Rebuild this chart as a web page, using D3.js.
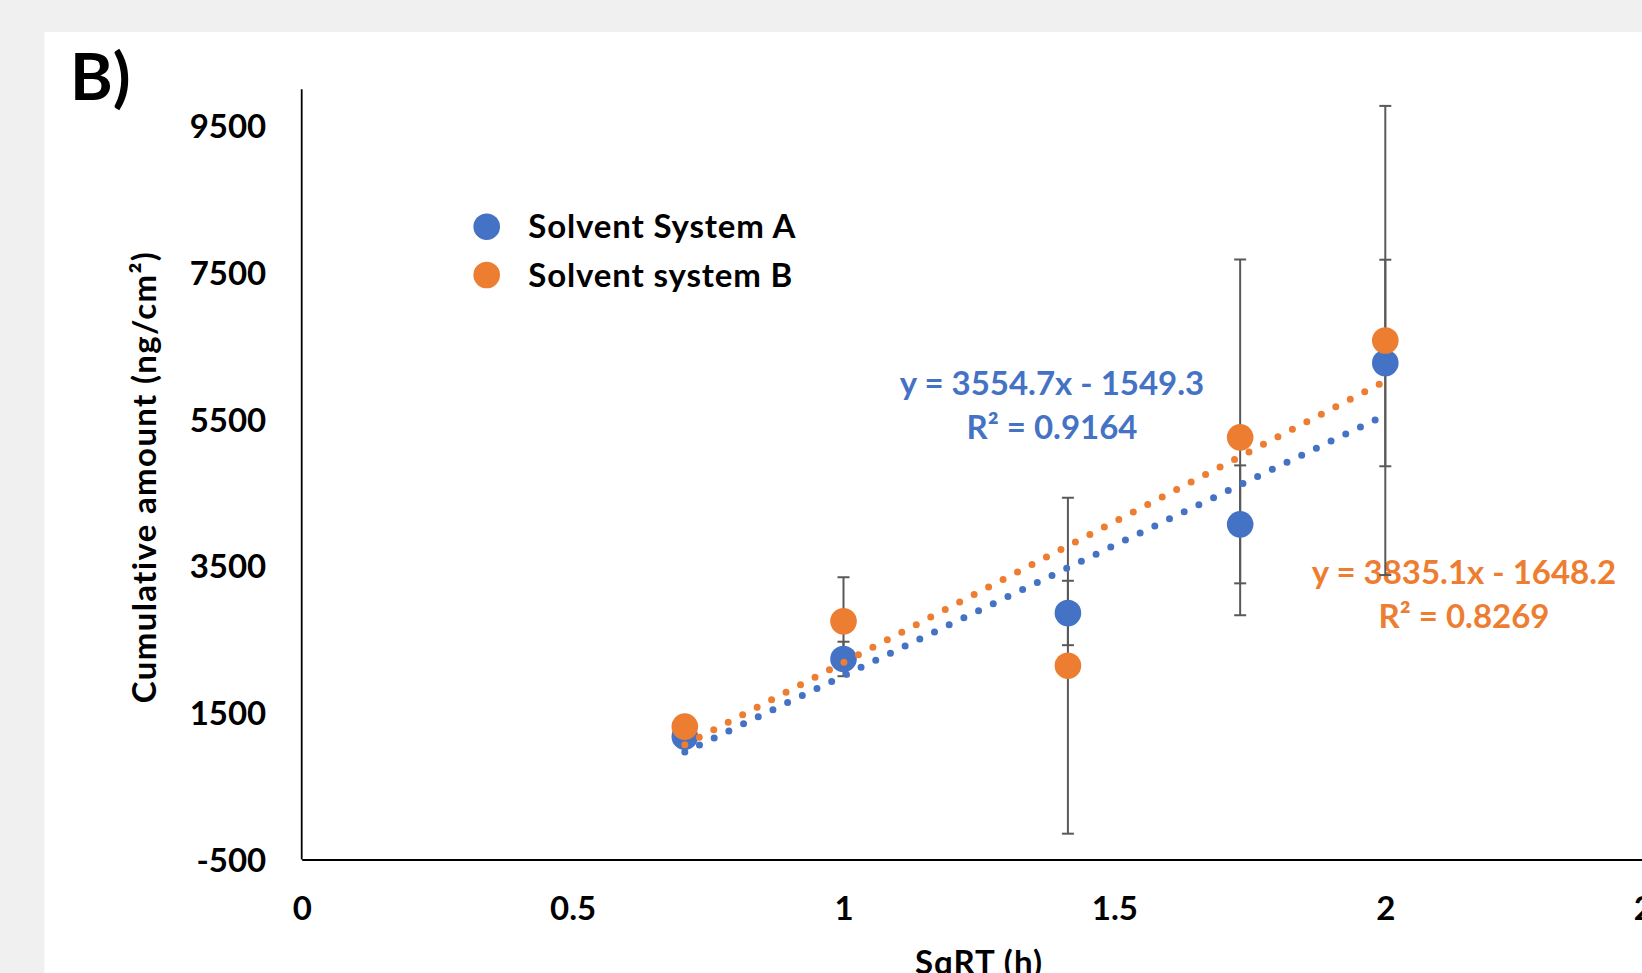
<!DOCTYPE html>
<html>
<head>
<meta charset="utf-8">
<script src="https://cdn.jsdelivr.net/npm/d3@7"></script>
<style>
  html, body { margin: 0; padding: 0; background: #f0f0f0; }
  svg { display: block; }
  text { font-family: Lato, "Open Sans", sans-serif; font-weight: bold; }
</style>
</head>
<body>
<svg id="chart" width="1642" height="973"></svg>
<script>
// ---- data ----
const xValues = [0.7071, 1, 1.4142, 1.7321, 2];          // SqRT (h)
const seriesNames = ["Solvent System A", "Solvent system B"];
const seriesA = [1174, 2234, 2861, 4069, 6269];
const errorA  = [null, 235, 439, 804, 1408];
const seriesB = [1311, 2748, 2142, 5255, 6576];
const errorB  = [null, 600, 2290, 2425, 3198];
const trendSlopes = [3554.7, 3835.1];
const trendIntercepts = [-1549.3, -1648.2];
const trendR2 = [0.9164, 0.8269];
const yTicks = [-500, 1500, 3500, 5500, 7500, 9500];
const xTicks = [0, 0.5, 1, 1.5, 2, 2.5];

const colors = ["#4472C4", "#ED7D31"];
const FS = 33;

const svg = d3.select("#chart");
svg.append("rect").attr("width", 1642).attr("height", 973).attr("fill", "#f0f0f0");
svg.append("rect").attr("x", 44.5).attr("y", 32).attr("width", 1642).attr("height", 973).attr("fill", "#fff");

const x = d3.scaleLinear().domain([0, 2.5]).range([301.7, 1656.2]);
const y = d3.scaleLinear().domain([-500, 9500]).range([859.5, 126]);
const yTop = 10000;

// panel label
svg.append("text").attr("x", 70).attr("y", 100).attr("font-size", 65).text("B)");

// axes
const yAxis = d3.axisLeft(y).tickValues(yTicks).tickSize(0).tickPadding(35.5).tickFormat(d => String(d));
const gy = svg.append("g").attr("transform", "translate(301.7,0)").call(yAxis);
gy.select(".domain").attr("d", `M0,${y(yTop)}V${y(-500)}`).attr("stroke", "#000").attr("stroke-width", 1.8);
gy.selectAll("text").attr("font-size", FS).attr("font-family", "Lato").attr("font-weight", "bold").attr("fill", "#000").attr("dy", "0.36em");

const xAxis = d3.axisBottom(x).tickValues(xTicks).tickSize(0).tickFormat(d => String(d));
const gx = svg.append("g").attr("transform", `translate(0,${y(-500)})`).call(xAxis);
gx.select(".domain").attr("stroke", "#000").attr("stroke-width", 1.8);
gx.selectAll("text").attr("font-size", FS).attr("font-family", "Lato").attr("font-weight", "bold").attr("fill", "#000").attr("y", 60).attr("dy", 0);

// axis titles
svg.append("text").attr("transform", "translate(156,477) rotate(-90)").attr("text-anchor", "middle")
  .attr("font-size", FS).attr("letter-spacing", 1.35).text("Cumulative amount (ng/cm²)");
svg.append("text").attr("x", (x(0) + x(2.5)) / 2).attr("y", 974).attr("text-anchor", "middle")
  .attr("font-size", FS).attr("letter-spacing", 1).text("SqRT (h)");

// trendline equation labels
const eqPos = [[1052, 395], [1464, 584.3]];
[0, 1].forEach(i => {
  const g = svg.append("g");
  const sign = trendIntercepts[i] < 0 ? " - " : " + ";
  g.append("text").attr("x", eqPos[i][0]).attr("y", eqPos[i][1]).attr("text-anchor", "middle")
    .attr("font-size", FS).attr("fill", colors[i])
    .text(`y = ${trendSlopes[i].toFixed(1)}x${sign}${Math.abs(trendIntercepts[i]).toFixed(1)}`);
  g.append("text").attr("x", eqPos[i][0]).attr("y", eqPos[i][1] + 44).attr("text-anchor", "middle")
    .attr("font-size", FS).attr("fill", colors[i])
    .text(`R² = ${trendR2[i].toFixed(4)}`);
});

// error bars
const series = [
  { vals: seriesA, errs: errorA, color: colors[0] },
  { vals: seriesB, errs: errorB, color: colors[1] }
];
const capW = 6;
series.forEach(s => {
  const g = svg.append("g").attr("stroke", "#595959").attr("stroke-width", 2).attr("fill", "none");
  xValues.forEach((xv, i) => {
    const e = s.errs[i];
    if (e == null) return;
    const cx = x(xv), y1 = y(s.vals[i] + e), y2 = y(s.vals[i] - e);
    g.append("line").attr("x1", cx).attr("x2", cx).attr("y1", y1).attr("y2", y2);
    g.append("line").attr("x1", cx - capW).attr("x2", cx + capW).attr("y1", y1).attr("y2", y1);
    g.append("line").attr("x1", cx - capW).attr("x2", cx + capW).attr("y1", y2).attr("y2", y2);
  });
});

// markers
series.forEach(s => {
  svg.append("g").selectAll("circle").data(xValues).join("circle")
    .attr("cx", d => x(d)).attr("cy", (d, i) => y(s.vals[i])).attr("r", 13.3).attr("fill", s.color);
});

// trendlines (dotted)
[0, 1].forEach(i => {
  const x0 = d3.min(xValues), x1 = d3.max(xValues);
  const f = v => trendSlopes[i] * v + trendIntercepts[i];
  svg.append("line")
    .attr("x1", x(x0)).attr("y1", y(f(x0))).attr("x2", x(x1)).attr("y2", y(f(x1)))
    .attr("stroke", colors[i]).attr("stroke-width", 7).attr("stroke-linecap", "round")
    .attr("stroke-dasharray", "0 16.3");
});

// legend
const leg = svg.append("g");
seriesNames.forEach((name, i) => {
  const cy = 226.7 + i * 48.3;
  leg.append("circle").attr("cx", 486.7).attr("cy", cy).attr("r", 13.3).attr("fill", colors[i]);
  leg.append("text").attr("x", 528.3).attr("y", cy + 11.5).attr("font-size", FS).attr("letter-spacing", 0.85)
    .attr("fill", "#000").text(name);
});
</script>
</body>
</html>
